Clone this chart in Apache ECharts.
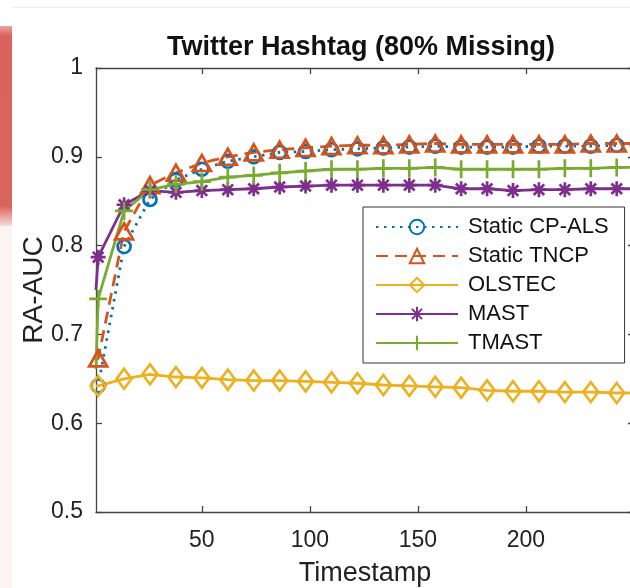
<!DOCTYPE html>
<html>
<head>
<meta charset="utf-8">
<script src="https://cdn.jsdelivr.net/npm/echarts@6/dist/echarts.min.js"></script>
<style>
  html, body { margin: 0; padding: 0; background: #fff; }
  #chart { width: 630px; height: 588px; }
</style>
</head>
<body>
<div id="chart"></div>
<script>
// Timestamps at which each method was evaluated (markers every 12 steps)
const timestamps = [1, 2, 14, 26, 38, 50, 62, 74, 86, 98, 110, 122, 134, 146, 158, 170, 182, 194, 206, 218, 230, 242, 250];

const staticCpAls = [0.642, 0.642, 0.799, 0.852, 0.874, 0.886, 0.895, 0.900, 0.905, 0.906, 0.908, 0.909, 0.910, 0.911, 0.912, 0.911, 0.911, 0.911, 0.912, 0.912, 0.912, 0.913, 0.913];
const staticTncp  = [0.672, 0.673, 0.816, 0.868, 0.882, 0.893, 0.900, 0.905, 0.908, 0.910, 0.912, 0.913, 0.913, 0.914, 0.915, 0.914, 0.914, 0.914, 0.914, 0.914, 0.915, 0.915, 0.915];
const olstec      = [0.642, 0.642, 0.650, 0.655, 0.652, 0.651, 0.649, 0.648, 0.648, 0.647, 0.646, 0.645, 0.643, 0.642, 0.641, 0.640, 0.637, 0.636, 0.636, 0.635, 0.635, 0.634, 0.634];
const mast        = [0.750, 0.787, 0.846, 0.862, 0.860, 0.862, 0.863, 0.864, 0.866, 0.867, 0.868, 0.868, 0.868, 0.868, 0.868, 0.864, 0.864, 0.862, 0.863, 0.863, 0.864, 0.864, 0.864];
const tmast       = [0.661, 0.740, 0.839, 0.863, 0.869, 0.872, 0.877, 0.879, 0.882, 0.884, 0.886, 0.886, 0.887, 0.887, 0.888, 0.886, 0.886, 0.886, 0.886, 0.887, 0.887, 0.888, 0.888];

const xTicks = [50, 100, 150, 200];
const yTicks = [0.5, 0.6, 0.7, 0.8, 0.9, 1];

const FONT = '"Liberation Sans", Arial, Helvetica, sans-serif';
const AXIS_COLOR = '#444';

// MATLAB-style marker shapes drawn as stroked paths
const ASTERISK = 'path://M0,-10L0,10M-10,0L10,0M-7.07,-7.07L7.07,7.07M-7.07,7.07L7.07,-7.07';
const PLUS = 'path://M0,-10L0,10M-10,0L10,0';

// pair timestamps with values; first and last samples carry no marker
function pairs(values) {
  const last = values.length - 1;
  return values.map((v, i) => {
    const item = { value: [timestamps[i], v] };
    if (i === 0 || i === last) item.symbol = 'none';
    return item;
  });
}

function lineSeries(name, values, color, lineType, symbol, symbolSize) {
  return {
    name: name,
    type: 'line',
    data: pairs(values),
    symbol: symbol,
    symbolSize: symbolSize,
    showAllSymbol: true,
    lineStyle: { color: color, width: 2.8, type: lineType },
    itemStyle: { color: 'rgba(0,0,0,0)', borderColor: color, borderWidth: 2.7 },
    emphasis: { disabled: true },
    animation: false
  };
}

const chart = echarts.init(document.getElementById('chart'), null, { renderer: 'canvas' });

const tickCommon = {
  axisLine: { show: true, onZero: false, lineStyle: { color: AXIS_COLOR, width: 1.3 } },
  axisTick: { show: true, inside: true, length: 6, lineStyle: { color: AXIS_COLOR, width: 1.3 } },
  splitLine: { show: false }
};

chart.setOption({
  backgroundColor: '#ffffff',
  animation: false,
  title: {
    text: 'Twitter Hashtag (80% Missing)',
    left: 162,
    top: 29,
    textStyle: { fontFamily: FONT, fontSize: 27, fontWeight: 'bold', color: '#111' }
  },
  grid: { left: 96, top: 68, right: -4, bottom: 76, containLabel: false, outerBoundsMode: 'none' },
  xAxis: [
    Object.assign({
      type: 'value', position: 'bottom', min: 1, max: 250,
      name: 'Timestamp', nameLocation: 'middle', nameGap: 48, nameMoveOverlap: false,
      nameTextStyle: { fontFamily: FONT, fontSize: 27, color: '#222' },
      axisLabel: { customValues: xTicks, fontFamily: FONT, fontSize: 23, color: '#222', margin: 17 }
    }, tickCommon, { axisTick: Object.assign({}, tickCommon.axisTick, { customValues: xTicks }) }),
    Object.assign({
      type: 'value', position: 'top', min: 1, max: 250,
      axisLabel: { show: false, customValues: xTicks }
    }, tickCommon, { axisTick: Object.assign({}, tickCommon.axisTick, { customValues: xTicks }) })
  ],
  yAxis: [
    Object.assign({
      type: 'value', position: 'left', min: 0.5, max: 1,
      name: 'RA-AUC', nameLocation: 'middle', nameGap: 48, nameMoveOverlap: false,
      nameTextStyle: { fontFamily: FONT, fontSize: 28, color: '#222' },
      axisLabel: {
        customValues: yTicks, fontFamily: FONT, fontSize: 23, color: '#222', margin: 13,
        formatter: v => (Math.abs(v - 1) < 1e-9 ? '1' : v.toFixed(1))
      }
    }, tickCommon, { axisTick: Object.assign({}, tickCommon.axisTick, { customValues: yTicks }) }),
    Object.assign({
      type: 'value', position: 'right', min: 0.5, max: 1,
      axisLabel: { show: false, customValues: yTicks }
    }, tickCommon, { axisTick: Object.assign({}, tickCommon.axisTick, { customValues: yTicks }) })
  ],
  legend: {
    orient: 'vertical',
    left: 363,
    top: 207,
    padding: [9, 16, 9, 12],
    itemWidth: 82,
    itemHeight: 18,
    itemGap: 7,
    backgroundColor: '#fff',
    borderColor: '#333',
    borderWidth: 1,
    selectedMode: false,
    textStyle: { fontFamily: FONT, fontSize: 22, color: '#111', lineHeight: 22, padding: [0, 0, 0, 5] },
    data: ['Static CP-ALS', 'Static TNCP', 'OLSTEC', 'MAST', 'TMAST']
  },
  graphic: [
    {
      type: 'rect', left: 0, top: 26, silent: true, z: -10,
      shape: { width: 12, height: 200 },
      style: {
        fill: new echarts.graphic.LinearGradient(0, 0, 0, 1, [
          { offset: 0, color: '#eba39e' },
          { offset: 0.05, color: '#d9625c' },
          { offset: 0.9, color: '#d9645e' },
          { offset: 1, color: '#f6dcda' }
        ])
      }
    },
    {
      type: 'rect', left: 0, top: 226, silent: true, z: -10,
      shape: { width: 12, height: 362 },
      style: { fill: '#fcf3f3' }
    },
    {
      type: 'line', silent: true, z: -10,
      shape: { x1: 12, y1: 7.5, x2: 630, y2: 7.5 },
      style: { stroke: '#eeeeee', lineWidth: 1 }
    }
  ],
  series: [
    lineSeries('Static CP-ALS', staticCpAls, '#0072BD', [2.5, 5.5], 'circle', 13),
    lineSeries('Static TNCP', staticTncp, '#D95319', [12, 7], 'triangle', [18, 16]),
    lineSeries('OLSTEC', olstec, '#EDB120', 'solid', 'diamond', [15, 20]),
    lineSeries('MAST', mast, '#7E2F8E', 'solid', ASTERISK, 15),
    lineSeries('TMAST', tmast, '#77AC30', 'solid', PLUS, 18)
  ]
});
</script>
</body>
</html>
